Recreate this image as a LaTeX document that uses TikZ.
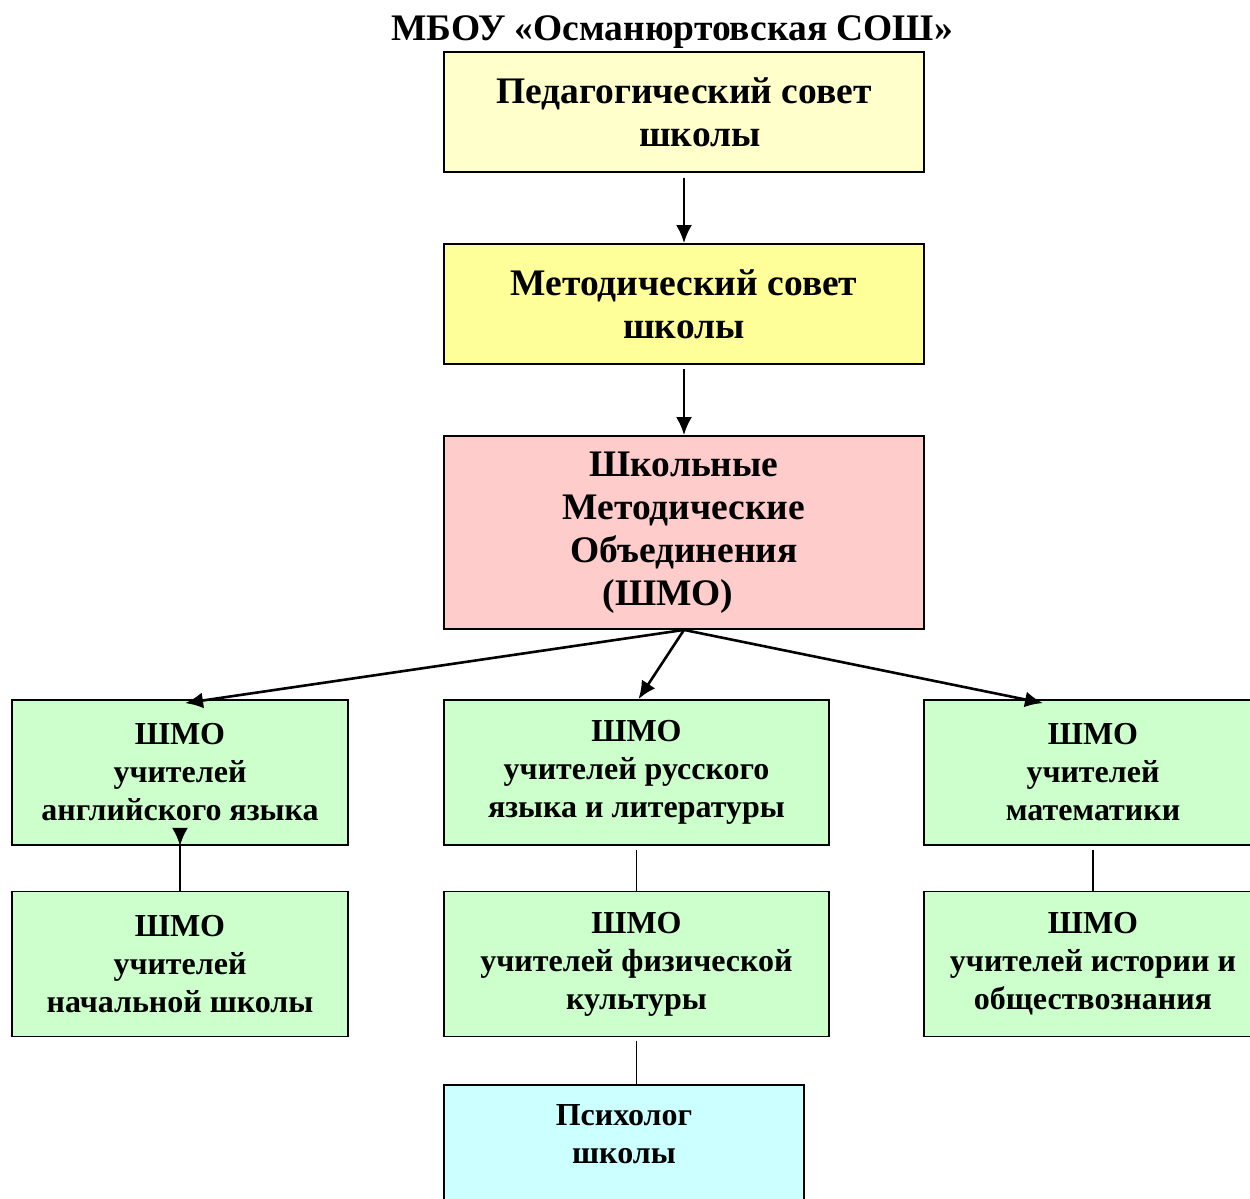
\documentclass[tikz,border=0pt]{standalone}
\usepackage{fontspec}
\setmainfont{Liberation Serif}
\usepackage{tikz}
\usetikzlibrary{arrows.meta,positioning}
\definecolor{PedYellow}{HTML}{FFFFCC}
\definecolor{MetYellow}{HTML}{FFFF99}
\definecolor{ShmoPink}{HTML}{FFCCCC}
\definecolor{ShmoGreen}{HTML}{CCFFCC}
\definecolor{PsyCyan}{HTML}{CCFFFF}

\begin{document}
\begin{tikzpicture}[x=1pt,y=-1pt,
  unit/.style={draw, line width=1.8pt, inner sep=0pt, align=center,
    font=\bfseries\fontsize{37.5}{43}\selectfont},
  group/.style={unit, fill=ShmoGreen, minimum height=145pt,
    font=\bfseries\fontsize{32}{38}\selectfont},
  link/.style={line width=2.6pt, -{Latex[length=18pt,width=16pt]}},
  tie/.style={line width=1.4pt}]
\useasboundingbox (0,0) rectangle (1250,1199);
%
\node[font=\bfseries\fontsize{37.5}{44}\selectfont] (title) at (672,32) {МБОУ «Османюртовская СОШ»};
%
\node[unit, fill=PedYellow, minimum width=480pt, minimum height=120pt] (ped) at (684,112) {Педагогический совет\\\hspace*{32pt}школы};
\node[unit, fill=MetYellow, minimum width=480pt, minimum height=120pt] (met) at (684,304) {Методический совет\\школы};
\node[unit, fill=ShmoPink, minimum width=480pt, minimum height=193pt] (shmo) at (684,532.5) {Школьные\\Методические\\Объединения\\(ШМО)\hspace*{32pt}};
%
\node[group, minimum width=336pt] (eng) at (180,772.5) {ШМО\\учителей\\английского языка};
\node[group, minimum width=385pt] (rus) at (636.5,772.5) {ШМО\\учителей русского\\языка и литературы};
\node[group, minimum width=338pt] (mat) at (1093,772.5) {ШМО\\учителей\\математики};
%
\node[group, minimum width=336pt] (prim) at (180,964) {ШМО\\учителей\\начальной школы};
\node[group, minimum width=385pt] (pe) at (636.5,964) {ШМО\\учителей физической\\культуры};
\node[group, minimum width=338pt] (hist) at (1093,964) {ШМО\\учителей истории и\\обществознания};
%
\node[unit, fill=PsyCyan, minimum width=360pt, minimum height=150pt, anchor=north] (psych) at (624,1084) {};
\node[font=\bfseries\fontsize{32}{38}\selectfont, align=center, below=17pt of psych.north] (psychtxt) {Психолог\\школы};
%
\coordinate (hub) at (shmo.south);
\draw[link, shorten <=5pt] (ped.south) -- (met.north);
\draw[link, shorten <=4pt] (met.south) -- (shmo.north);
\draw[link] (hub) -- ([xshift=5pt,yshift=-4pt]eng.north);
\draw[link] (hub) -- ([xshift=2pt]rus.north);
\draw[link] (hub) -- ([xshift=-50pt,yshift=-4pt]mat.north);
%
\draw[tie] (eng.south) -- (prim.north);
\draw[link] ([yshift=17pt]eng.south) -- (eng.south);
\draw[tie, shorten <=4pt] (rus.south) -- (pe.north);
\draw[tie, shorten <=4pt] (mat.south) -- (hist.north);
\draw[tie, shorten <=4pt] (pe.south) -- (pe.south |- psych.north);
\end{tikzpicture}
\end{document}
